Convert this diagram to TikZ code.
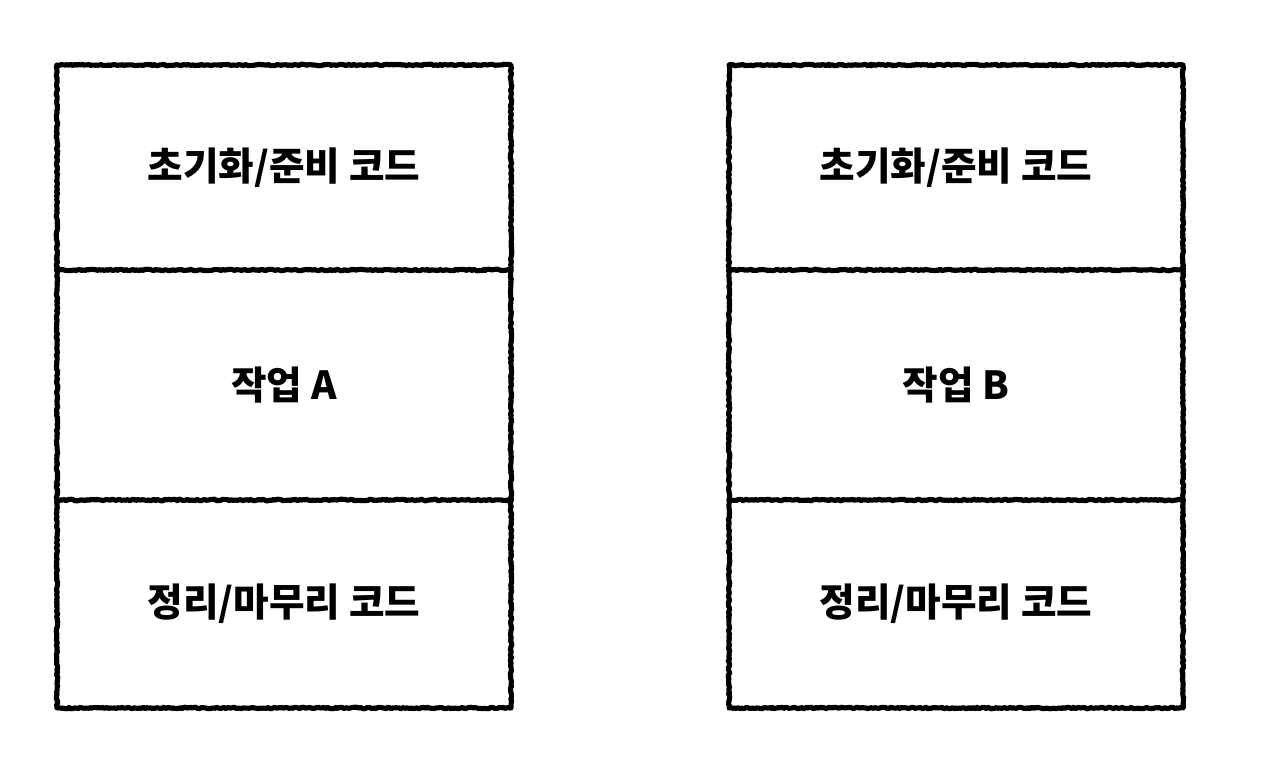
\documentclass[tikz,border=0pt]{standalone}
\usepackage{fontspec}
\newfontfamily\kofont{Noto Sans CJK KR}
\usetikzlibrary{positioning,decorations.pathmorphing}
\tikzset{
  cellbox/.style={rectangle, minimum width=9.08cm, inner sep=0pt, outer sep=0pt,
    font=\kofont\bfseries\fontsize{22}{26}\selectfont},
  sketchy/.style={black, line width=2.9pt, line cap=round, line join=round,
    decorate, decoration={random steps, segment length=1pt, amplitude=0.45pt}}
}

\begin{document}
\begin{tikzpicture}[x=1cm,y=1cm]
  \useasboundingbox (0,0) rectangle (25.32,15.44);

  % colonne gauche
  \node[cellbox, minimum height=4.10cm] (initA) at (5.68,12.09) {초기화/준비 코드};
  \node[cellbox, minimum height=4.60cm, below=0pt of initA] (workA) {작업 A};
  \node[cellbox, minimum height=4.16cm, below=0pt of workA] (doneA) {정리/마무리 코드};

  % colonne droite
  \node[cellbox, minimum height=4.10cm] (initB) at (19.12,12.09) {초기화/준비 코드};
  \node[cellbox, minimum height=4.60cm, below=0pt of initB] (workB) {작업 B};
  \node[cellbox, minimum height=4.16cm, below=0pt of workB] (doneB) {정리/마무리 코드};

  % contours
  \foreach \c in {A,B}{
    \draw[sketchy] (init\c.north west) rectangle (done\c.south east);
    \draw[sketchy] (init\c.south west) -- (init\c.south east);
    \draw[sketchy] (work\c.south west) -- (work\c.south east);
  }
\end{tikzpicture}
\end{document}
